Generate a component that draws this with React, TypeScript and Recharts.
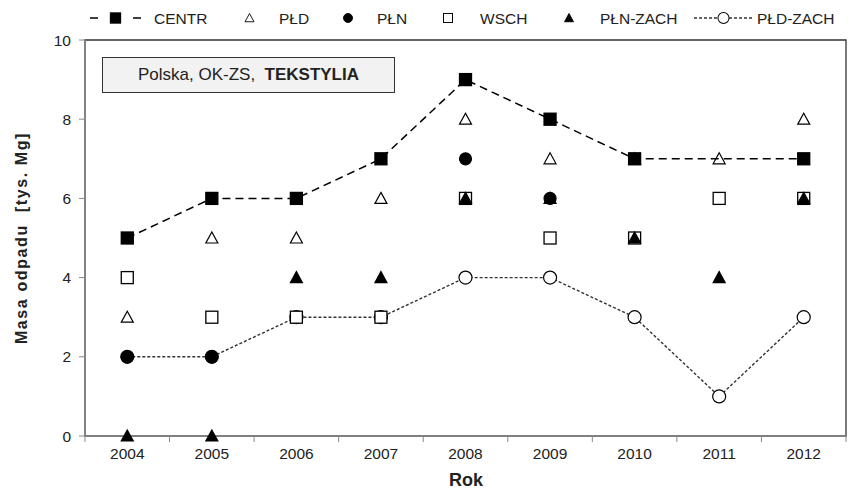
import { ComposedChart, Line, XAxis, YAxis, ReferenceArea } from "recharts";

const YEARS = [2004, 2005, 2006, 2007, 2008, 2009, 2010, 2011, 2012];
const CENTR = [5, 6, 6, 7, 9, 8, 7, null, 7];
const PLD = [3, 5, 5, 6, 8, 7, 7, 7, 8];
const PLN = [2, 2, null, null, 7, 6, null, null, null];
const WSCH = [4, 3, 3, 3, 6, 5, 5, 6, 6];
const PLN_ZACH = [0, 0, 4, 4, 6, 6, 5, 4, 6];
const PLD_ZACH = [2, 2, 3, 3, 4, 4, 3, 1, 3];
const Y_TICKS = [0, 2, 4, 6, 8, 10];
const X_BOUNDS = [2003.5, 2004.5, 2005.5, 2006.5, 2007.5, 2008.5, 2009.5, 2010.5, 2011.5, 2012.5];

const data = YEARS.map((year, i) => ({
  year,
  centr: CENTR[i],
  pld: PLD[i],
  pln: PLN[i],
  wsch: WSCH[i],
  plnZach: PLN_ZACH[i],
  pldZach: PLD_ZACH[i],
}));

const FONT = '"Liberation Sans", Arial, sans-serif';

type Kind = "sq" | "osq" | "tri" | "otri" | "dot" | "odot";

function Marker({ kind, cx, cy }: { kind: Kind; cx: number; cy: number }) {
  const s = 6;
  if (kind === "sq" || kind === "osq") {
    return (
      <rect
        x={cx - s}
        y={cy - s}
        width={s * 2}
        height={s * 2}
        fill={kind === "sq" ? "#000" : "#fff"}
        stroke="#000"
        strokeWidth={1.3}
      />
    );
  }
  if (kind === "tri" || kind === "otri") {
    return (
      <polygon
        points={`${cx},${cy - s} ${cx + s},${cy + s - 1} ${cx - s},${cy + s - 1}`}
        fill={kind === "tri" ? "#000" : "none"}
        stroke="#000"
        strokeWidth={1.2}
      />
    );
  }
  return (
    <circle
      cx={cx}
      cy={cy}
      r={kind === "dot" ? 6 : 6.5}
      fill={kind === "dot" ? "#000" : "#fff"}
      stroke="#000"
      strokeWidth={1.2}
    />
  );
}

const dotOf = (kind: Kind) => (props: any) => {
  const { cx, cy, value, index } = props;
  if (value == null || cx == null || cy == null) return <g key={`e-${index}`} />;
  return (
    <g key={`m-${index}`}>
      <Marker kind={kind} cx={cx} cy={cy} />
    </g>
  );
};

const emptyTick = () => <g />;

const legendItems: { label: string; kind: Kind; line?: "dash" | "dot"; x0: number; x1: number; tx: number }[] = [
  { label: "CENTR", kind: "sq", line: "dash", x0: 90, x1: 141, tx: 154 },
  { label: "PŁD", kind: "otri", x0: 240, x1: 259, tx: 279 },
  { label: "PŁN", kind: "dot", x0: 338, x1: 358, tx: 377 },
  { label: "WSCH", kind: "osq", x0: 438, x1: 458, tx: 480 },
  { label: "PŁN-ZACH", kind: "tri", x0: 559, x1: 579, tx: 600 },
  { label: "PŁD-ZACH", kind: "odot", line: "dot", x0: 694, x1: 753, tx: 757 },
];

export default function App() {
  return (
    <div style={{ position: "relative", width: 848, height: 488, background: "#fff", fontFamily: FONT, color: "#222" }}>
      <style>{`body{margin:0}`}</style>

      <svg width={848} height={36} style={{ position: "absolute", left: 0, top: 0 }}>
        {legendItems.map((it) => {
          const cx = (it.x0 + it.x1) / 2;
          return (
            <g key={it.label}>
              {it.line === "dash" && (
                <>
                  <line x1={it.x0} x2={it.x0 + 8} y1={18} y2={18} stroke="#000" strokeWidth={1.5} />
                  <line x1={it.x1 - 8} x2={it.x1} y1={18} y2={18} stroke="#000" strokeWidth={1.5} />
                </>
              )}
              {it.line === "dot" && (
                <line x1={it.x0} x2={it.x1} y1={18} y2={18} stroke="#333" strokeWidth={1.3} strokeDasharray="3 2" />
              )}
              <g transform={`translate(${cx},18) scale(${it.line ? 0.85 : 0.75}) translate(${-cx},-18)`}>
                <Marker kind={it.kind} cx={cx} cy={18} />
              </g>
              <text x={it.tx} y={23.5} fontSize={15.5} fontFamily={FONT} fill="#222">
                {it.label}
              </text>
            </g>
          );
        })}
      </svg>

      <ComposedChart
        width={848}
        height={488}
        data={data}
        margin={{ top: 40, right: 2, bottom: 22, left: 0 }}
        style={{ position: "absolute", left: 0, top: 0 }}
      >
        <XAxis
          type="number"
          dataKey="year"
          domain={[2003.5, 2012.5]}
          ticks={X_BOUNDS}
          height={6}
          axisLine={{ stroke: "#888", strokeWidth: 1.3 }}
          tickLine={{ stroke: "#888" }}
          tickSize={6}
          tick={emptyTick}
          interval={0}
        />
        <XAxis
          xAxisId="lbl"
          type="number"
          dataKey="year"
          domain={[2003.5, 2012.5]}
          ticks={YEARS}
          height={24}
          tickLine={false}
          axisLine={false}
          tickSize={0}
          tickMargin={6}
          tick={{ fontSize: 15.5, fill: "#222", fontFamily: FONT }}
          interval={0}
        />
        <YAxis
          type="number"
          domain={[0, 10]}
          ticks={Y_TICKS}
          width={85}
          tickSize={6}
          tickMargin={8}
          axisLine={{ stroke: "#888", strokeWidth: 1.3 }}
          tickLine={{ stroke: "#888" }}
          tick={{ fontSize: 15.5, fill: "#222", fontFamily: FONT }}
          interval={0}
        />
        <ReferenceArea x1={2003.5} x2={2012.5} y1={0} y2={10} fill="none" stroke="#333" strokeWidth={1.3} />

        <Line
          dataKey="pldZach"
          stroke="#333"
          strokeWidth={1.4}
          strokeDasharray="3 2"
          dot={dotOf("odot")}
          activeDot={false}
          isAnimationActive={false}
        />
        <Line
          dataKey="centr"
          stroke="#000"
          strokeWidth={1.5}
          strokeDasharray="8 5"
          connectNulls
          dot={dotOf("sq")}
          activeDot={false}
          isAnimationActive={false}
        />
        <Line dataKey="wsch" stroke="none" dot={dotOf("osq")} activeDot={false} isAnimationActive={false} />
        <Line dataKey="pld" stroke="none" dot={dotOf("otri")} activeDot={false} isAnimationActive={false} />
        <Line dataKey="pln" stroke="none" dot={dotOf("dot")} activeDot={false} isAnimationActive={false} />
        <Line dataKey="plnZach" stroke="none" dot={dotOf("tri")} activeDot={false} isAnimationActive={false} />
      </ComposedChart>

      <div
        style={{
          position: "absolute",
          left: 102,
          top: 57,
          width: 291,
          height: 34,
          background: "#f2f2f2",
          border: "1.3px solid #333",
          display: "flex",
          alignItems: "center",
          justifyContent: "center",
          fontSize: 17,
          whiteSpace: "pre",
        }}
      >
        <span>Polska, OK-ZS,  </span>
        <b>TEKSTYLIA</b>
      </div>

      <div
        style={{
          position: "absolute",
          left: 22,
          top: 238,
          transform: "translate(-50%, -50%) rotate(-90deg)",
          fontSize: 16,
          fontWeight: "bold",
          letterSpacing: 1.6,
          whiteSpace: "pre",
        }}
      >
        Masa odpadu  [tys. Mg]
      </div>

      <div
        style={{
          position: "absolute",
          left: 466,
          top: 480,
          transform: "translate(-50%, -50%)",
          fontSize: 18,
          fontWeight: "bold",
        }}
      >
        Rok
      </div>
    </div>
  );
}
